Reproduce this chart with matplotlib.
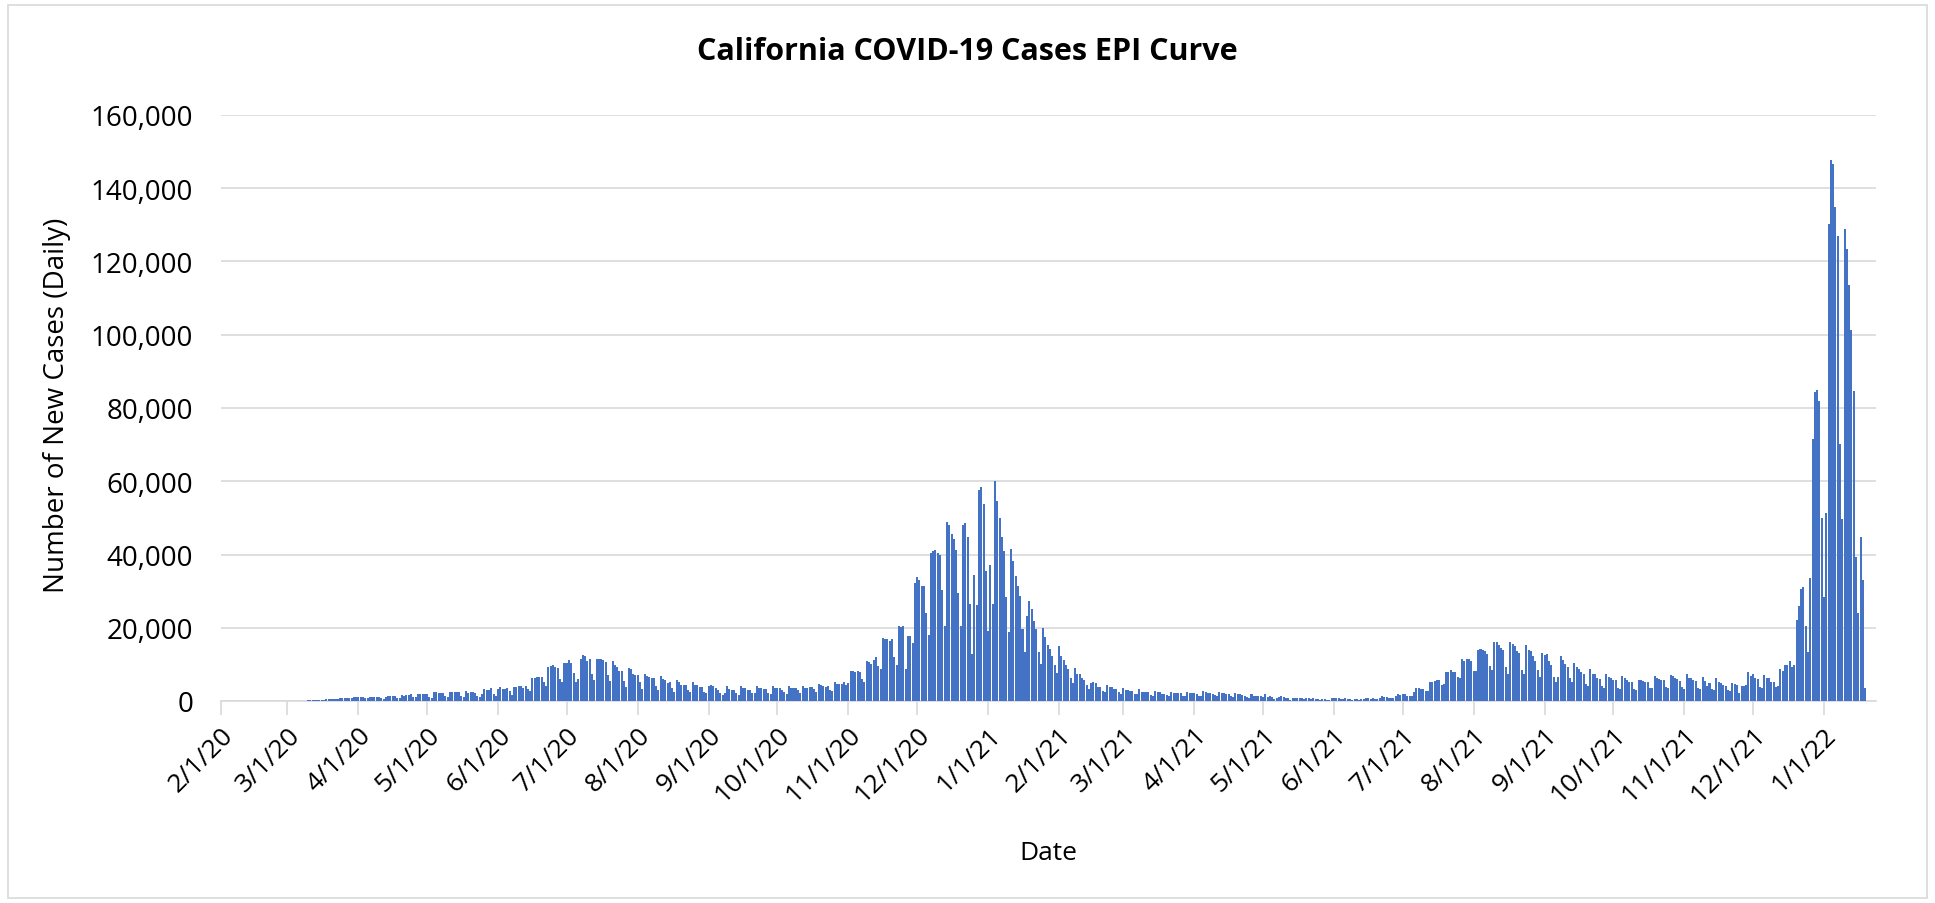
import matplotlib
matplotlib.use("Agg")
import matplotlib.pyplot as plt
import numpy as np
import pandas as pd
from matplotlib.patches import Rectangle

# ---------------- data (daily new cases, in thousands) ----------------
first_day = "2020-03-01"

cases_mar_jun_2020 = [
    0.01, 0.01, 0.02, 0.02, 0.03, 0.05, 0.06, 0.08,
    0.10, 0.15, 0.15, 0.20, 0.25, 0.30, 0.30,
    0.35, 0.40, 0.45, 0.50, 0.50, 0.55, 0.50,
    0.60, 0.70, 0.70, 0.80, 0.80, 0.90, 0.80,
    1.0, 1.1, 1.2, 1.2, 1.1, 0.9, 0.9,
    1.2, 1.2, 1.2, 1.2, 1.2, 0.8, 0.5,
    1.2, 1.3, 1.4, 1.4, 1.4, 0.9, 0.9,
    1.7, 1.5, 1.6, 1.7, 1.8, 1.2, 1.0,
    1.9, 2.0, 1.9, 1.9, 2.0, 1.0, 0.7,
    2.4, 2.5, 2.1, 2.1, 2.1, 1.4, 1.1,
    2.4, 2.4, 2.4, 2.5, 2.4, 1.5, 1.1,
    2.8, 2.3, 2.4, 2.4, 2.3, 1.5, 1.1,
    2.0, 3.3, 3.1, 2.9, 3.5, 1.8, 1.4,
    3.3, 3.7, 3.3, 3.4, 3.5, 2.6, 1.7,
    3.9, 3.8,
]
cases_jun_aug_2020 = [
    4.0, 4.0, 3.5, 4.2, 3.3, 2.7,
    6.2, 6.2, 6.6, 6.6, 6.6, 5.2, 4.0,
    9.2, 9.5, 9.7, 9.4, 8.9, 6.0, 5.2,
    10.5, 10.5, 11.1, 10.5, 7.7, 5.2, 6.0,
    11.6, 12.5, 12.2, 11.0, 11.4, 7.4, 5.6,
    11.5, 11.5, 11.5, 11.2, 10.7, 7.2, 5.4,
    11.0, 9.9, 9.2, 8.3, 8.2, 5.5, 3.9,
    8.9, 8.7, 7.5, 7.0, 7.0, 5.3, 3.3,
    7.3, 6.9, 6.5, 6.2, 6.2, 4.1, 3.0,
    6.8, 6.1, 5.8, 5.0,
]
cases_aug_oct_2020 = [
    5.1, 3.5, 2.5,
    5.6, 5.1, 4.5, 4.5, 4.4, 2.9, 2.4,
    5.2, 4.5, 4.5, 3.7, 3.7, 2.5, 2.1,
    4.1, 4.5, 4.0, 3.5, 3.1, 2.1, 1.7,
    2.2, 4.0, 3.3, 3.0, 3.1, 2.1, 1.7,
    4.0, 3.5, 3.5, 3.0, 3.0, 2.3, 2.1,
    4.0, 3.5, 3.5, 3.2, 3.2, 2.1, 1.9,
    4.0, 3.5, 3.5, 3.5, 3.1, 2.4, 2.0,
    4.1, 3.5, 3.5, 3.5, 3.1, 2.1, 4.1,
    3.5, 3.5, 3.7, 3.7,
]
cases_oct_dec_2020 = [
    3.4, 2.5, 4.7, 4.5, 4.2, 3.8, 4.1, 3.0, 2.6, 5.1,
    4.6, 4.6, 4.6, 5.2, 4.3, 4.8, 8.1, 8.1, 7.9, 8.1,
    8.0, 6.1, 5.3, 10.8, 10.6, 10.2, 11.2, 12.0, 9.6, 8.8,
    17.3, 16.8, 16.8, 16.4, 17.0, 12.0, 9.9, 20.4, 20.3, 20.4,
    8.8, 17.8, 17.8, 15.7, 32.2, 33.8, 33.1, 31.5, 31.5, 24.0,
    17.9, 40.5, 40.9, 41.1, 40.3, 39.8, 30.2, 20.6, 48.9, 48.0,
    45.5, 44.1, 41.2, 29.4, 20.4,
]
cases_dec_feb_2021 = [
    48.1, 48.7, 44.9, 26.5, 12.9, 34.4, 26.1, 57.5, 58.3, 53.8,
    35.4, 19.0, 37.0, 26.5, 60.0, 54.5, 50.1, 44.8, 40.9, 28.3,
    18.8, 41.6, 38.2, 34.2, 31.5, 28.7, 19.6, 13.4, 23.3, 27.2,
    25.0, 21.9, 19.6, 13.3, 10.0, 19.8, 17.6, 15.3, 14.2, 12.4,
    9.7, 7.7, 14.9, 12.2, 11.3, 9.7, 8.8, 6.4, 5.0, 9.1,
    7.4, 7.3, 6.4, 5.7, 4.3, 3.2, 5.0, 5.3, 4.8, 3.9,
    3.7, 2.8, 2.5, 4.5, 3.9,
]
cases_feb_apr_2021 = [
    3.7, 3.3, 3.3, 2.4, 2.0, 3.5, 3.0, 2.9, 2.7, 2.6,
    2.0, 1.8, 3.2, 2.5, 2.4, 2.4, 2.4, 1.6, 1.5, 2.7,
    2.4, 2.4, 2.0, 2.0, 1.6, 1.5, 2.5, 2.3, 2.3, 2.2,
    2.2, 1.5, 1.5, 2.5, 2.2, 2.2, 2.2, 2.0, 1.5, 1.5,
    2.7, 2.4, 2.3, 2.3, 2.0, 1.6, 1.5, 2.5, 2.2, 2.2,
    2.0, 1.8, 1.5, 1.2, 2.2, 1.8, 1.8, 1.6, 1.5, 1.2,
    0.9, 1.9, 1.5, 1.5, 1.4,
]
cases_may_jul_2021 = [
    1.3, 1.0, 1.8, 1.2, 1.3, 1.2, 0.5, 0.7, 1.1, 1.3,
    1.1, 0.9, 0.7, 0.4, 0.9, 0.7, 0.9, 0.7, 0.7, 0.5,
    0.7, 0.7, 0.5, 0.7, 0.5, 0.5, 0.4, 0.5, 0.5, 0.4,
    0.2, 0.7, 0.9, 0.7, 0.7, 0.5, 0.5, 0.7, 0.5, 0.5,
    0.4, 0.5, 0.5, 0.4, 0.5, 0.5, 0.7, 0.7, 0.5, 0.7,
    0.5, 0.5, 0.9, 1.3, 1.1, 1.1, 0.9, 0.7, 0.9, 1.5,
    1.8, 1.6, 1.8, 1.8, 1.5,
]
cases_jul_sep_2021 = [
    1.4, 1.4, 2.5, 3.5, 3.5, 3.4, 3.4, 2.8, 2.8, 5.2,
    5.2, 5.5, 5.6, 5.6, 4.5, 4.7, 8.0, 8.0, 8.6, 8.0,
    8.0, 6.5, 6.3, 11.5, 10.9, 11.6, 11.5, 11.0, 8.3, 8.3,
    13.9, 14.2, 13.8, 13.7, 12.8, 9.5, 8.5, 16.1, 16.1, 15.4,
    14.4, 13.9, 9.4, 7.5, 16.1, 15.5, 15.1, 13.6, 13.2, 8.6,
    7.4, 15.3, 13.9, 13.6, 12.4, 11.0, 8.5, 6.5, 13.2, 12.5,
    12.7, 10.8, 9.7, 6.5, 5.3,
]
cases_sep_nov_2021 = [
    6.5, 12.4, 11.3, 10.2, 9.3, 6.2, 5.3, 10.4, 9.3, 8.7,
    7.8, 7.3, 4.7, 4.0, 8.7, 7.5, 7.3, 6.4, 6.0, 4.0,
    3.6, 7.5, 6.5, 6.2, 5.6, 5.6, 3.5, 3.3, 6.7, 6.2,
    5.8, 5.1, 5.1, 3.3, 3.1, 5.6, 5.6, 5.5, 5.1, 5.1,
    3.5, 3.5, 6.7, 6.2, 6.0, 5.8, 5.8, 3.8, 3.5, 7.1,
    6.7, 6.4, 6.0, 5.5, 3.8, 3.3, 7.3, 6.4, 6.4, 5.8,
    5.5, 3.5, 3.3, 6.5,
]
cases_nov_dec_2021 = [
    5.5, 4.0, 4.9, 3.3, 3.1, 6.2, 5.1, 4.9, 4.4, 4.2,
    3.1, 2.6, 4.9, 4.6, 4.4, 2.2, 4.0, 4.0, 4.4, 8.0,
    6.9, 7.4, 6.2, 6.0, 3.7, 3.5, 7.2, 6.4, 6.4, 5.3,
    5.3, 3.9, 4.2, 8.7, 8.1, 9.9, 9.9,
]
cases_dec_jan_2022 = [
    10.9, 9.3, 9.9, 22.0, 25.9, 30.5, 31.0, 20.6, 13.3, 33.5,
    71.6, 84.4, 85.0, 81.9, 50.0, 28.3, 51.3, 130.3, 147.6, 146.6,
    134.9, 127.0, 70.3, 49.7, 128.8, 123.3, 113.6, 101.4, 84.7, 39.4,
    24.0, 44.7, 33.0, 3.5,
]

tick_labels = ["2/1/20", "3/1/20", "4/1/20", "5/1/20", "6/1/20", "7/1/20",
               "8/1/20", "9/1/20", "10/1/20", "11/1/20", "12/1/20", "1/1/21",
               "2/1/21", "3/1/21", "4/1/21", "5/1/21", "6/1/21", "7/1/21",
               "8/1/21", "9/1/21", "10/1/21", "11/1/21", "12/1/21", "1/1/22"]
y_ticks = [0, 20000, 40000, 60000, 80000, 100000, 120000, 140000, 160000]

title = "California COVID-19 Cases EPI Curve"
x_title = "Date"
y_title = "Number of New Cases (Daily)"

# ---------------- assemble ----------------
segments = [cases_mar_jun_2020, cases_jun_aug_2020, cases_aug_oct_2020,
            cases_oct_dec_2020, cases_dec_feb_2021, cases_feb_apr_2021,
            cases_may_jul_2021, cases_jul_sep_2021, cases_sep_nov_2021,
            cases_nov_dec_2021, cases_dec_jan_2022]
values_k = np.concatenate([np.asarray(s, float) for s in segments])
cases = values_k * 1000.0

origin = pd.Timestamp("2020-02-01")
dates = pd.date_range(first_day, periods=len(cases), freq="D")
xdays = (dates - origin).days.values.astype(float)
tick_pos = [(pd.to_datetime(t, format="%m/%d/%y") - origin).days for t in tick_labels]

# ---------------- figure ----------------
FONT = ["Open Sans", "DejaVu Sans"]
plt.rcParams["font.family"] = FONT
W, H = 1935, 904
fig = plt.figure(figsize=(W / 100, H / 100), dpi=100)
fig.patch.set_facecolor("white")

# chart border
fig.add_artist(Rectangle((8 / W, 5 / H), 1 - 16 / W, 1 - 11 / H, transform=fig.transFigure,
                         fill=False, edgecolor="#D9D9D9", linewidth=1.2))

left, right = 221 / W, 1876 / W
bottom, top = 1 - 702 / H, 1 - 116 / H
ax = fig.add_axes([left, bottom, right - left, top - bottom])

ax.bar(xdays, cases, width=0.88, color="#4472C4", edgecolor="none", zorder=3)

ax.set_xlim(0, (1876 - 221) / 2.29)
ax.set_ylim(0, 160000)

ax.set_yticks(y_ticks)
ax.set_yticklabels([f"{v:,}" for v in y_ticks])
ax.yaxis.grid(True, color="#D9D9D9", linewidth=1.2, zorder=0)
ax.set_axisbelow(True)

ax.set_xticks(tick_pos)
ax.set_xticklabels(tick_labels, rotation=45, ha="right", rotation_mode="anchor")

for s in ["top", "right", "left"]:
    ax.spines[s].set_visible(False)
ax.spines["bottom"].set_color("#D9D9D9")
ax.spines["bottom"].set_linewidth(1.2)
ax.tick_params(axis="y", length=0, pad=20, labelsize=20, labelcolor="#000000")
ax.tick_params(axis="x", length=10, width=1.2, color="#D9D9D9", pad=5,
               labelsize=19, labelcolor="#000000")

fig.text(0.5, 1 - 52 / H, title, ha="center", va="center",
         fontsize=22, fontweight="bold", color="#000000")
fig.text((221 + 1876) / 2 / W, 1 - 854 / H, x_title, ha="center", va="center",
         fontsize=19, color="#000000")
fig.text(57 / W, 1 - 405 / H, y_title, ha="center", va="center", rotation=90,
         fontsize=20, color="#000000")

fig.savefig("out.png", dpi=100, facecolor="white")
